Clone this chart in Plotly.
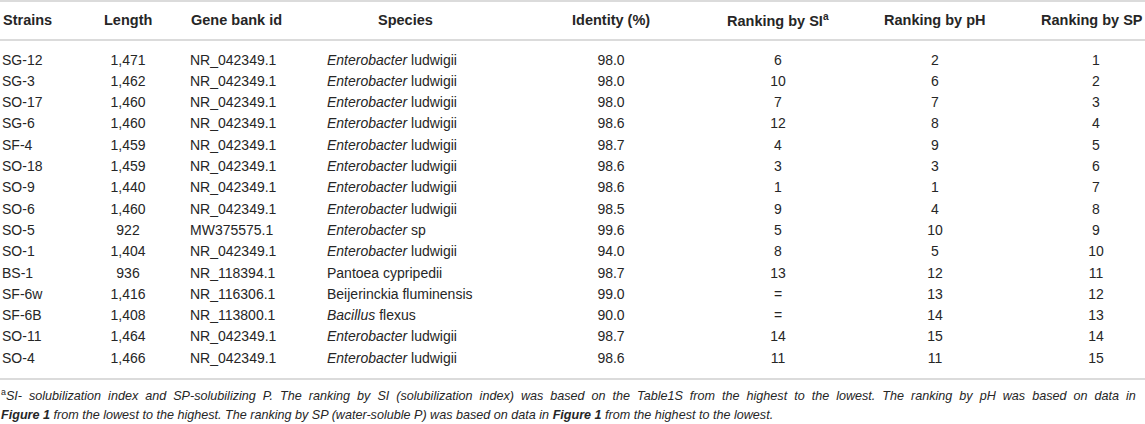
import plotly.graph_objects as go

# ---- data ----
headers = ["Strains", "Length", "Gene bank id", "Species", "Identity (%)",
           "Ranking by SI<sup>a</sup>", "Ranking by pH", "Ranking by SP"]
strains = ["SG-12", "SG-3", "SO-17", "SG-6", "SF-4", "SO-18", "SO-9", "SO-6",
           "SO-5", "SO-1", "BS-1", "SF-6w", "SF-6B", "SO-11", "SO-4"]
lengths = ["1,471", "1,462", "1,460", "1,460", "1,459", "1,459", "1,440", "1,460",
           "922", "1,404", "936", "1,416", "1,408", "1,464", "1,466"]
gene_ids = ["NR_042349.1", "NR_042349.1", "NR_042349.1", "NR_042349.1",
            "NR_042349.1", "NR_042349.1", "NR_042349.1", "NR_042349.1",
            "MW375575.1", "NR_042349.1", "NR_118394.1", "NR_116306.1",
            "NR_113800.1", "NR_042349.1", "NR_042349.1"]
species = ["<i>Enterobacter</i> ludwigii"] * 8 + [
    "<i>Enterobacter</i> sp", "<i>Enterobacter</i> ludwigii",
    "Pantoea cypripedii", "Beijerinckia fluminensis", "<i>Bacillus</i> flexus",
    "<i>Enterobacter</i> ludwigii", "<i>Enterobacter</i> ludwigii"]
identity = ["98.0", "98.0", "98.0", "98.6", "98.7", "98.6", "98.6", "98.5",
            "99.6", "94.0", "98.7", "99.0", "90.0", "98.7", "98.6"]
rank_si = ["6", "10", "7", "12", "4", "3", "1", "9", "5", "8", "13", "=", "=", "14", "11"]
rank_ph = ["2", "6", "7", "8", "9", "3", "1", "4", "10", "5", "12", "13", "14", "15", "11"]
rank_sp = ["1", "2", "3", "4", "5", "6", "7", "8", "9", "10", "11", "12", "13", "14", "15"]

footnote_1 = ("SI- solubilization index and SP-solubilizing P. The ranking by SI "
              "(solubilization index) was based on the Table1S from the highest to the lowest. "
              "The ranking by pH was based on data in")
footnote_2 = ("<b><i>Figure 1</i></b><i> from the lowest to the highest. The ranking by SP "
              "(water-soluble P) was based on data in </i><b><i>Figure 1</i></b>"
              "<i> from the highest to the lowest.</i>")

# ---- layout / style constants ----
W, H = 1145, 424
TEXT = "#262626"
RULE = "#cfcfcf"
FONT = "Liberation Sans"
CELL_SIZE = 14
HEAD_SIZE = 14.5
NOTE_SIZE = 12.6

# per column: anchor x (px), cell alignment, header anchor x, header alignment
COL_X = [2, 128, 190, 327, 611, 778, 935, 1096]
COL_ALIGN = ["left", "center", "left", "left", "center", "center", "center", "center"]
HEAD_X = [2, 128, 190, 405, 611, 778, 935, 1092]
HEAD_ALIGN = ["left", "center", "left", "center", "center", "center", "center", "center"]

ROW0_Y = 61      # pixel centre of first row
ROW_PITCH = 21.3
HEAD_Y = 20
RULES_Y = [1, 40, 379]
NOTE_Y = [395, 415]

columns = [strains, lengths, gene_ids, species, identity, rank_si, rank_ph, rank_sp]

fig = go.Figure()
for k, col in enumerate(columns):
    fig.add_trace(go.Scatter(
        x=[COL_X[k]] * len(col), y=strains, text=col, mode="text",
        textposition="middle right" if COL_ALIGN[k] == "left" else "middle center",
        textfont=dict(family=FONT, size=CELL_SIZE, color=TEXT),
        hoverinfo="skip", showlegend=False, cliponaxis=False,
    ))

def py(p):
    return 1 - p / H

for k, h in enumerate(headers):
    fig.add_annotation(text="<b>%s</b>" % h, xref="x", yref="paper", x=HEAD_X[k], y=py(HEAD_Y),
                       xanchor=HEAD_ALIGN[k], yanchor="middle", showarrow=False,
                       borderpad=0, font=dict(family=FONT, size=HEAD_SIZE, color=TEXT))

for yy in RULES_Y:
    fig.add_shape(type="line", xref="paper", yref="paper", x0=0, x1=1,
                  y0=py(yy), y1=py(yy), line=dict(color=RULE, width=1.5))

# first footnote line is justified in the source: widen its word gaps
note_1 = "<sup>a</sup><i>" + footnote_1.replace(" ", " \u00a0") + "</i>"
for txt, yy in zip((note_1, footnote_2), NOTE_Y):
    fig.add_annotation(text=txt, xref="paper", yref="paper", x=0, y=py(yy),
                       xanchor="left", yanchor="middle", showarrow=False, borderpad=0,
                       font=dict(family=FONT, size=NOTE_SIZE, color=TEXT))

fig.update_xaxes(range=[0, W], visible=False, fixedrange=True)
fig.update_yaxes(type="category", categoryarray=strains,
                 range=[(H - ROW0_Y) / ROW_PITCH, -ROW0_Y / ROW_PITCH],
                 visible=False, fixedrange=True)
fig.update_layout(width=W, height=H, margin=dict(l=0, r=0, t=0, b=0),
                  paper_bgcolor="white", plot_bgcolor="white")
fig.write_html("out.html", config={"displayModeBar": False},
               post_script="document.body.style.margin='0';")
